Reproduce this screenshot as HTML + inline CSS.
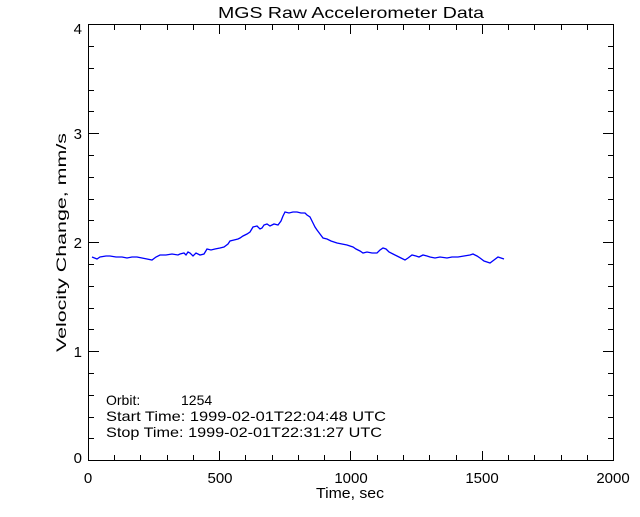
<!DOCTYPE html>
<html><head><style>
html,body{margin:0;padding:0;background:#fff;}
svg text{font-family:"Liberation Sans","DejaVu Sans",sans-serif;fill:#000;}
</style></head><body>
<svg width="640" height="512" xmlns="http://www.w3.org/2000/svg">
<rect width="640" height="512" fill="#fff"/>
<text x="218" y="18" font-size="16" textLength="266" lengthAdjust="spacingAndGlyphs">MGS Raw Accelerometer Data</text>
<rect x="88.5" y="24.5" width="525" height="436" fill="none" stroke="#000" stroke-width="1"/>
<g stroke="#000" stroke-width="1">
<path d="M88.5 460v-9M219.5 460v-9M350.5 460v-9M482.5 460v-9M613.5 460v-9M88.5 25v9M219.5 25v9M350.5 25v9M482.5 25v9M613.5 25v9"/>
<path d="M114.5 460v-5M140.5 460v-5M167.5 460v-5M193.5 460v-5M245.5 460v-5M272.5 460v-5M298.5 460v-5M324.5 460v-5M377.5 460v-5M403.5 460v-5M429.5 460v-5M456.5 460v-5M508.5 460v-5M534.5 460v-5M561.5 460v-5M587.5 460v-5
M114.5 25v5M140.5 25v5M167.5 25v5M193.5 25v5M245.5 25v5M272.5 25v5M298.5 25v5M324.5 25v5M377.5 25v5M403.5 25v5M429.5 25v5M456.5 25v5M508.5 25v5M534.5 25v5M561.5 25v5M587.5 25v5"/>
<path d="M89 24.5h10M89 133.5h10M89 242.5h10M89 351.5h10M89 460.5h10M613 24.5h-10M613 133.5h-10M613 242.5h-10M613 351.5h-10M613 460.5h-10"/>
<path d="M89 46.5h5M89 68.5h5M89 90.5h5M89 111.5h5M89 155.5h5M89 177.5h5M89 199.5h5M89 220.5h5M89 264.5h5M89 286.5h5M89 308.5h5M89 329.5h5M89 373.5h5M89 395.5h5M89 417.5h5M89 438.5h5
M613 46.5h-5M613 68.5h-5M613 90.5h-5M613 111.5h-5M613 155.5h-5M613 177.5h-5M613 199.5h-5M613 220.5h-5M613 264.5h-5M613 286.5h-5M613 308.5h-5M613 329.5h-5M613 373.5h-5M613 395.5h-5M613 417.5h-5M613 438.5h-5"/>
</g>
<g font-size="15">
<text x="82" y="34" text-anchor="end">4</text>
<text x="82" y="139" text-anchor="end">3</text>
<text x="82" y="248" text-anchor="end">2</text>
<text x="82" y="357" text-anchor="end">1</text>
<text x="82" y="463" text-anchor="end">0</text>
<text x="88" y="483" text-anchor="middle">0</text>
<text x="220" y="483" text-anchor="middle">500</text>
<text x="351" y="483" text-anchor="middle">1000</text>
<text x="482" y="483" text-anchor="middle">1500</text>
<text x="613" y="483" text-anchor="middle">2000</text>
<text x="316" y="498" textLength="68" lengthAdjust="spacingAndGlyphs">Time, sec</text>
<text transform="translate(66,352) rotate(-90)" font-size="14" textLength="219" lengthAdjust="spacingAndGlyphs">Velocity Change, mm/s</text>
<text x="106" y="405" font-size="14">Orbit:</text>
<text x="181" y="405" font-size="14">1254</text>
<text x="106" y="421" font-size="14" textLength="280" lengthAdjust="spacingAndGlyphs">Start Time: 1999-02-01T22:04:48 UTC</text>
<text x="106" y="437" font-size="14" textLength="276" lengthAdjust="spacingAndGlyphs">Stop Time: 1999-02-01T22:31:27 UTC</text>
</g>
<polyline fill="none" stroke="#0000ff" stroke-width="1.3" points="92,257 97,259 100,257 106,256 110,256 116,257 122,257 127,258 132,257 137,257 142,258 147,259 152,260 156,257 160,255 166,255 172,254 178,255 180,254 184,253 186,255 188,252 190,253 193,256 196,253 200,255 204,254 207,249 211,250 215,249 220,248 224,247 228,244 230,241 234,240 238,239 240,238 243,236 247,234 250,232 253,227 257,226 260,229 262,228 264,225 267,224 270,226 274,224 278,225 281,221 283,216 285,212 289,213 293,212 297,212 301,213 305,213 307,215 310,217 313,223 315,227 317,230 320,234 323,238 327,239 331,241 337,243 342,244 347,245 350,246 353,247 356,249 360,251 363,253 367,252 372,253 377,253 380,250 383,248 386,249 389,252 393,254 397,256 401,258 405,260 408,258 412,255 416,256 419,257 423,255 427,256 430,257 435,258 440,257 447,258 452,257 458,257 464,256 470,255 473,254 477,256 480,258 484,261 487,262 490,263 494,260 498,257 501,258 504,259"/>
</svg>
</body></html>
